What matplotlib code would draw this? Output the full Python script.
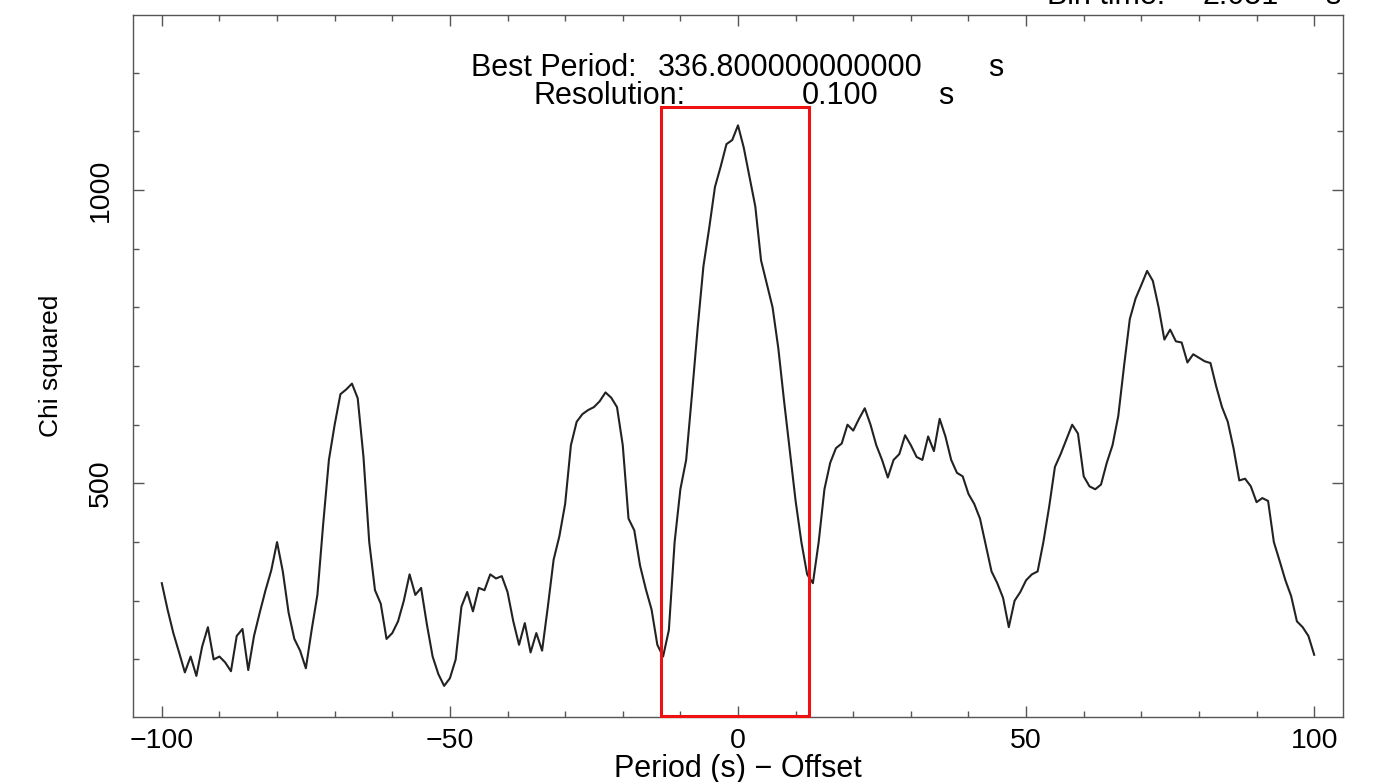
import matplotlib
matplotlib.use("Agg")
import matplotlib.pyplot as plt
from matplotlib.patches import Rectangle
from matplotlib.ticker import MultipleLocator

plt.rcParams['font.family'] = ['Liberation Sans', 'DejaVu Sans']

# period offset (s) and chi squared at 1 s steps
offsets = list(range(-100, 101))
chi2 = [
    330, 285, 245, 212, 178, 205, 172, 222, 255, 200,   # -100 .. -91
    205, 195, 180, 240, 252, 182, 240, 280, 318, 352,   # -90 .. -81
    400, 350, 280, 235, 215, 185, 250, 310, 430, 540,   # -80 .. -71
    600, 652, 660, 670, 645, 545, 400, 318, 295, 235,   # -70 .. -61
    245, 265, 300, 345, 310, 322, 260, 205, 175, 155,   # -60 .. -51
    168, 200, 290, 315, 282, 322, 318, 345, 338, 342,   # -50 .. -41
    315, 265, 225, 262, 212, 245, 215, 290, 370, 410,   # -40 .. -31
    465, 565, 605, 618, 625, 630, 640, 655, 646, 630,   # -30 .. -21
    565, 440, 420, 360, 320, 285, 225, 205, 250, 400,   # -20 .. -11
    490, 540, 650, 765, 870, 935, 1005, 1040, 1078, 1085,  # -10 .. -1
    1110, 1072, 1022, 972, 880, 840, 800, 730, 640, 555,   # 0 .. 9
    470, 400, 345, 330, 400, 490, 535, 560, 568, 600,   # 10 .. 19
    590, 610, 628, 600, 565, 540, 510, 540, 550, 582,   # 20 .. 29
    565, 545, 540, 580, 555, 610, 580, 540, 518, 512,   # 30 .. 39
    482, 465, 440, 395, 350, 330, 305, 255, 300, 315,   # 40 .. 49
    335, 345, 350, 400, 460, 528, 550, 575, 600, 585,   # 50 .. 59
    512, 495, 490, 498, 535, 565, 615, 700, 780, 815,   # 60 .. 69
    838, 862, 845, 800, 745, 762, 742, 740, 706, 720,   # 70 .. 79
    714, 708, 705, 665, 630, 605, 560, 505, 508, 495,   # 80 .. 89
    468, 475, 470, 400, 368, 335, 308, 265, 255, 240,   # 90 .. 99
    208,                                                # 100
]

# selected window around the best period
sel_lo, sel_hi, sel_top = -13.3, 12.3, 1141

W, H = 1399, 782
fig = plt.figure(figsize=(W / 100, H / 100), dpi=100)
ax = fig.add_axes([133 / W, 1 - 717 / H, (1343 - 133) / W, (717 - 15) / H])

ax.plot(offsets, chi2, color='#222222', lw=1.5)

ax.set_xlim(-105, 105)
ax.set_ylim(102, 1298)
ymin = ax.get_ylim()[0]
ax.add_patch(Rectangle((sel_lo, ymin + 1), sel_hi - sel_lo, sel_top - ymin - 1,
                       fill=False, edgecolor='#ee1111', lw=2.2, zorder=5,
                       clip_on=False))

ax.xaxis.set_major_locator(MultipleLocator(50))
ax.xaxis.set_minor_locator(MultipleLocator(10))
ax.yaxis.set_major_locator(MultipleLocator(500))
ax.yaxis.set_minor_locator(MultipleLocator(100))
ax.tick_params(which='both', direction='in', top=True, right=True,
               color='#555555', width=1)
ax.tick_params(which='major', length=8, labelsize=20.5)
ax.tick_params(which='minor', length=4.5)
ax.tick_params(axis='x', pad=8)
ax.tick_params(axis='y', pad=14)
for lab in ax.get_yticklabels():
    lab.set_rotation(90)
    lab.set_va('center')
for s in ax.spines.values():
    s.set_color('#555555')
    s.set_linewidth(1)

ax.set_xlabel('Period (s) \u2212 Offset', fontsize=22, labelpad=0)
ax.set_ylabel('Chi squared', fontsize=19, labelpad=18)

# header texts
def put(txt, px, py):
    fig.text(px / W, 1 - py / H, txt, fontsize=22, ha='left', va='baseline')

put('Best Period:', 471, 76)
put('336.800000000000', 658, 76)
put('s', 988, 76)
put('Resolution:', 533, 104)
put('0.100', 802, 104)
put('s', 938, 104)
put('Bin time:', 1047, 4)
put('2.051', 1203, 4)
put('s', 1325, 4)

fig.savefig('out.png', dpi=100)
